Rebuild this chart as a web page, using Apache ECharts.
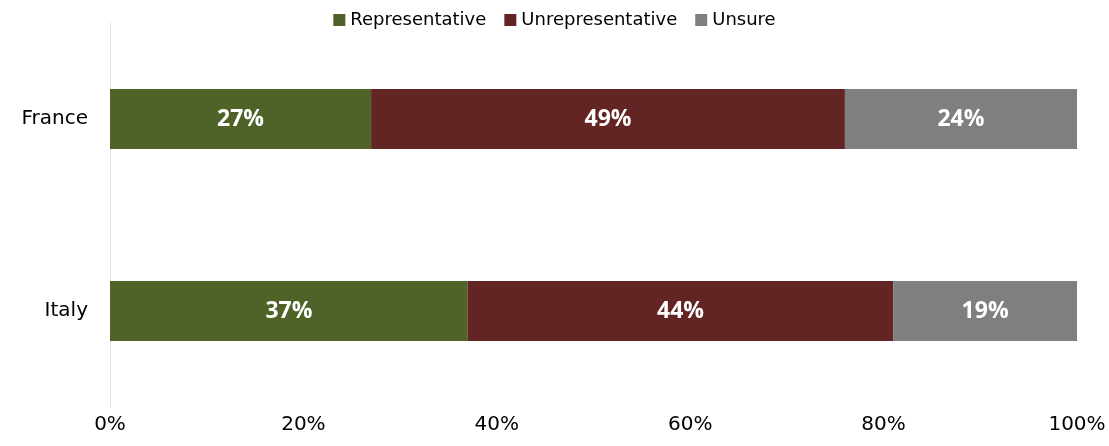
<!DOCTYPE html>
<html><head><meta charset="utf-8">
<script src="https://cdn.jsdelivr.net/npm/echarts@6/dist/echarts.min.js"></script>
<style>html,body{margin:0;padding:0;background:#fff}#c{width:1109px;height:446px}</style>
</head><body><div id="c"></div>
<script>
const categories = ['Italy', 'France'];
const seriesNames = ['Representative', 'Unrepresentative', 'Unsure'];
const representative = [37, 27];
const unrepresentative = [44, 49];
const unsure = [19, 24];
const colors = ['#4f6228', '#632523', '#7f7f7f'];
const values = [representative, unrepresentative, unsure];

const chart = echarts.init(document.getElementById('c'));
chart.setOption({
  animation: false,
  textStyle: { fontFamily: 'DejaVu Sans, sans-serif' },
  legend: {
    top: 6, left: 'center', itemWidth: 12, itemHeight: 12, itemGap: 18,
    icon: 'rect',
    textStyle: { fontSize: 18, color: '#000' },
    data: seriesNames
  },
  grid: { left: 110, right: 32, top: 23, bottom: 39 },
  xAxis: {
    type: 'value', min: 0, max: 100, interval: 20,
    axisLine: { show: false }, axisTick: { show: false }, splitLine: { show: false },
    axisLabel: { formatter: '{value}%', fontSize: 20, color: '#000', margin: 8 }
  },
  yAxis: {
    type: 'category', data: categories,
    axisLine: { show: true, lineStyle: { color: '#e3e3e3', width: 1 } },
    axisTick: { show: false },
    axisLabel: { fontSize: 20, color: '#000', margin: 22 }
  },
  series: seriesNames.map((n, i) => ({
    name: n, type: 'bar', stack: 'total', barWidth: 60,
    itemStyle: { color: colors[i] },
    label: { show: true, position: 'inside', formatter: '{c}%', color: '#fff', fontSize: 23, fontWeight: 'bold', fontFamily: 'Open Sans, sans-serif' },
    data: values[i]
  }))
});
</script></body></html>
